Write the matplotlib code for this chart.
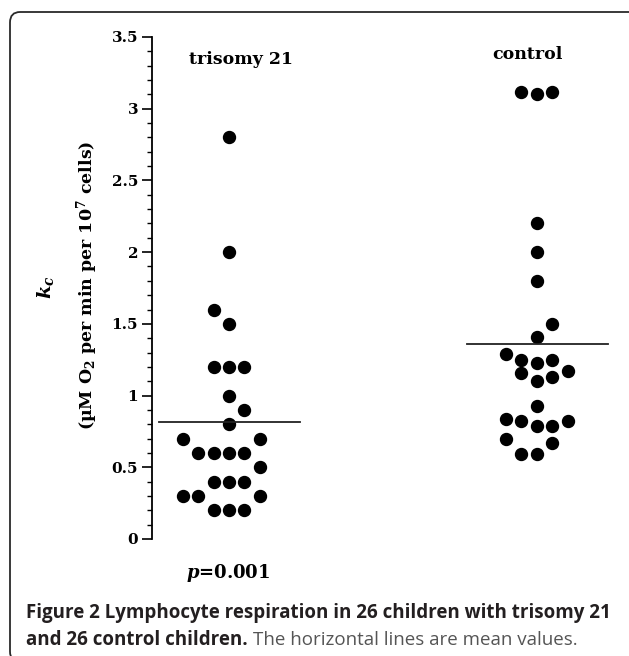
"""
Lymphocyte respiration: trisomy 21 vs control (dot plot with mean lines)
"""
import numpy as np
import matplotlib
matplotlib.use('Agg')
import matplotlib.pyplot as plt
from matplotlib.ticker import MultipleLocator
from matplotlib.patches import FancyBboxPatch

# data
groups = ['trisomy 21', 'control']
t21_values = [2.8, 2.0, 1.6, 1.5, 1.2, 1.2, 1.2, 1.0, 0.9, 0.8, 0.7, 0.7,
              0.6, 0.6, 0.6, 0.6, 0.5, 0.4, 0.4, 0.4, 0.3, 0.3, 0.3, 0.2, 0.2, 0.2]
t21_cols = [0, 0, -1, 0, -1, 0, 1, 0, 1, 0, -3, 2,
            -2, -1, 0, 1, 2, -1, 0, 1, -3, -2, 2, -1, 0, 1]
ctrl_values = [3.12, 3.10, 3.12, 2.2, 2.0, 1.8, 1.5, 1.41, 1.29, 1.25, 1.23, 1.245,
               1.16, 1.17, 1.10, 1.13, 0.93, 0.84, 0.82, 0.79, 0.79, 0.82,
               0.70, 0.67, 0.59, 0.59]
ctrl_cols = [-1, 0, 1, 0, 0, 0, 1, 0, -2, -1, 0, 1,
             -1, 2, 0, 1, 0, -2, -1, 0, 1, 2,
             -2, 1, -1, 0]
yticks = [0, 0.5, 1, 1.5, 2, 2.5, 3, 3.5]
ytick_labels = ['0', '0.5', '1', '1.5', '2', '2.5', '3', '3.5']
p_text = '=0.001'

plt.rcParams['mathtext.fontset'] = 'custom'
plt.rcParams['mathtext.rm'] = 'DejaVu Serif:bold'
plt.rcParams['mathtext.it'] = 'DejaVu Serif:italic:bold'
plt.rcParams['mathtext.bf'] = 'DejaVu Serif:bold'

W, H = 629, 656
fig = plt.figure(figsize=(W / 100, H / 100), dpi=100)
fig.patch.set_facecolor('white')

# rounded frame (right and bottom edges run off the picture)
frame = FancyBboxPatch((10 / W, 1 - 662 / H), 630 / W, 650 / H,
                       boxstyle='round,pad=0,rounding_size=0.016',
                       transform=fig.transFigure, fill=False,
                       edgecolor='#2a2a2a', linewidth=1.3)
fig.patches.append(frame)

ax = fig.add_axes([152 / W, (H - 539) / H, 468 / W, 502 / H])
ax.set_xlim(0.75, 2.27)
ax.set_ylim(0, 3.5)

step = 0.05
for i, (vals, cols) in enumerate([(t21_values, t21_cols), (ctrl_values, ctrl_cols)]):
    x = i + 1 + np.array(cols) * step
    ax.plot(x, vals, 'o', color='black', markersize=8.6, clip_on=False)
    m = np.mean(vals)
    ax.plot([i + 1 - 0.228, i + 1 + 0.23], [m, m], color='#222222', linewidth=1.3)

for s in ['top', 'right', 'bottom']:
    ax.spines[s].set_visible(False)
ax.spines['left'].set_linewidth(1.3)
ax.set_xticks([])
ax.set_yticks(yticks)
ax.set_yticklabels(ytick_labels, fontfamily='DejaVu Serif', fontweight='bold', fontsize=11)
ax.yaxis.set_minor_locator(MultipleLocator(0.1))
ax.tick_params(axis='y', which='major', length=7, width=1.2, pad=3, direction='out')
ax.tick_params(axis='y', which='minor', length=3.5, width=1.0, direction='out')

serif = dict(fontfamily='DejaVu Serif', fontweight='bold', color='black')
ax.text(1.04, 3.34, groups[0], ha='center', va='center', fontsize=12.5, **serif)
ax.text(1.97, 3.38, groups[1], ha='center', va='center', fontsize=12.5, **serif)

fig.text(228 / W, 1 - 573 / H, r'$p$' + p_text, ha='center', va='center', fontsize=13, **serif)

# y-axis label, two lines
fig.text(45 / W, 1 - 287 / H, r'$k_c$', rotation=90, ha='center', va='center', fontsize=14, **serif)
fig.text(87 / W, 1 - 285 / H, r'(µM O$_2$ per min per 10$^7$ cells)', rotation=90,
         ha='center', va='center', fontsize=12.5, **serif)

# caption
cap = dict(fontfamily='Open Sans', fontsize=13.5)
fig.text(26 / W, 1 - 613 / H, 'Figure 2 Lymphocyte respiration in 26 children with trisomy 21',
         ha='left', va='center', fontweight='bold', color='#231f20', **cap)
bold2 = fig.text(26 / W, 1 - 640 / H, 'and 26 control children.',
                 ha='left', va='center', fontweight='bold', color='#231f20', **cap)
fig.canvas.draw()
bb = bold2.get_window_extent()
fig.text(bb.x1 / W + 5 / W, 1 - 640 / H, 'The horizontal lines are mean values.',
         ha='left', va='center', color='#555555', **cap)

fig.savefig('out.png', dpi=100)
